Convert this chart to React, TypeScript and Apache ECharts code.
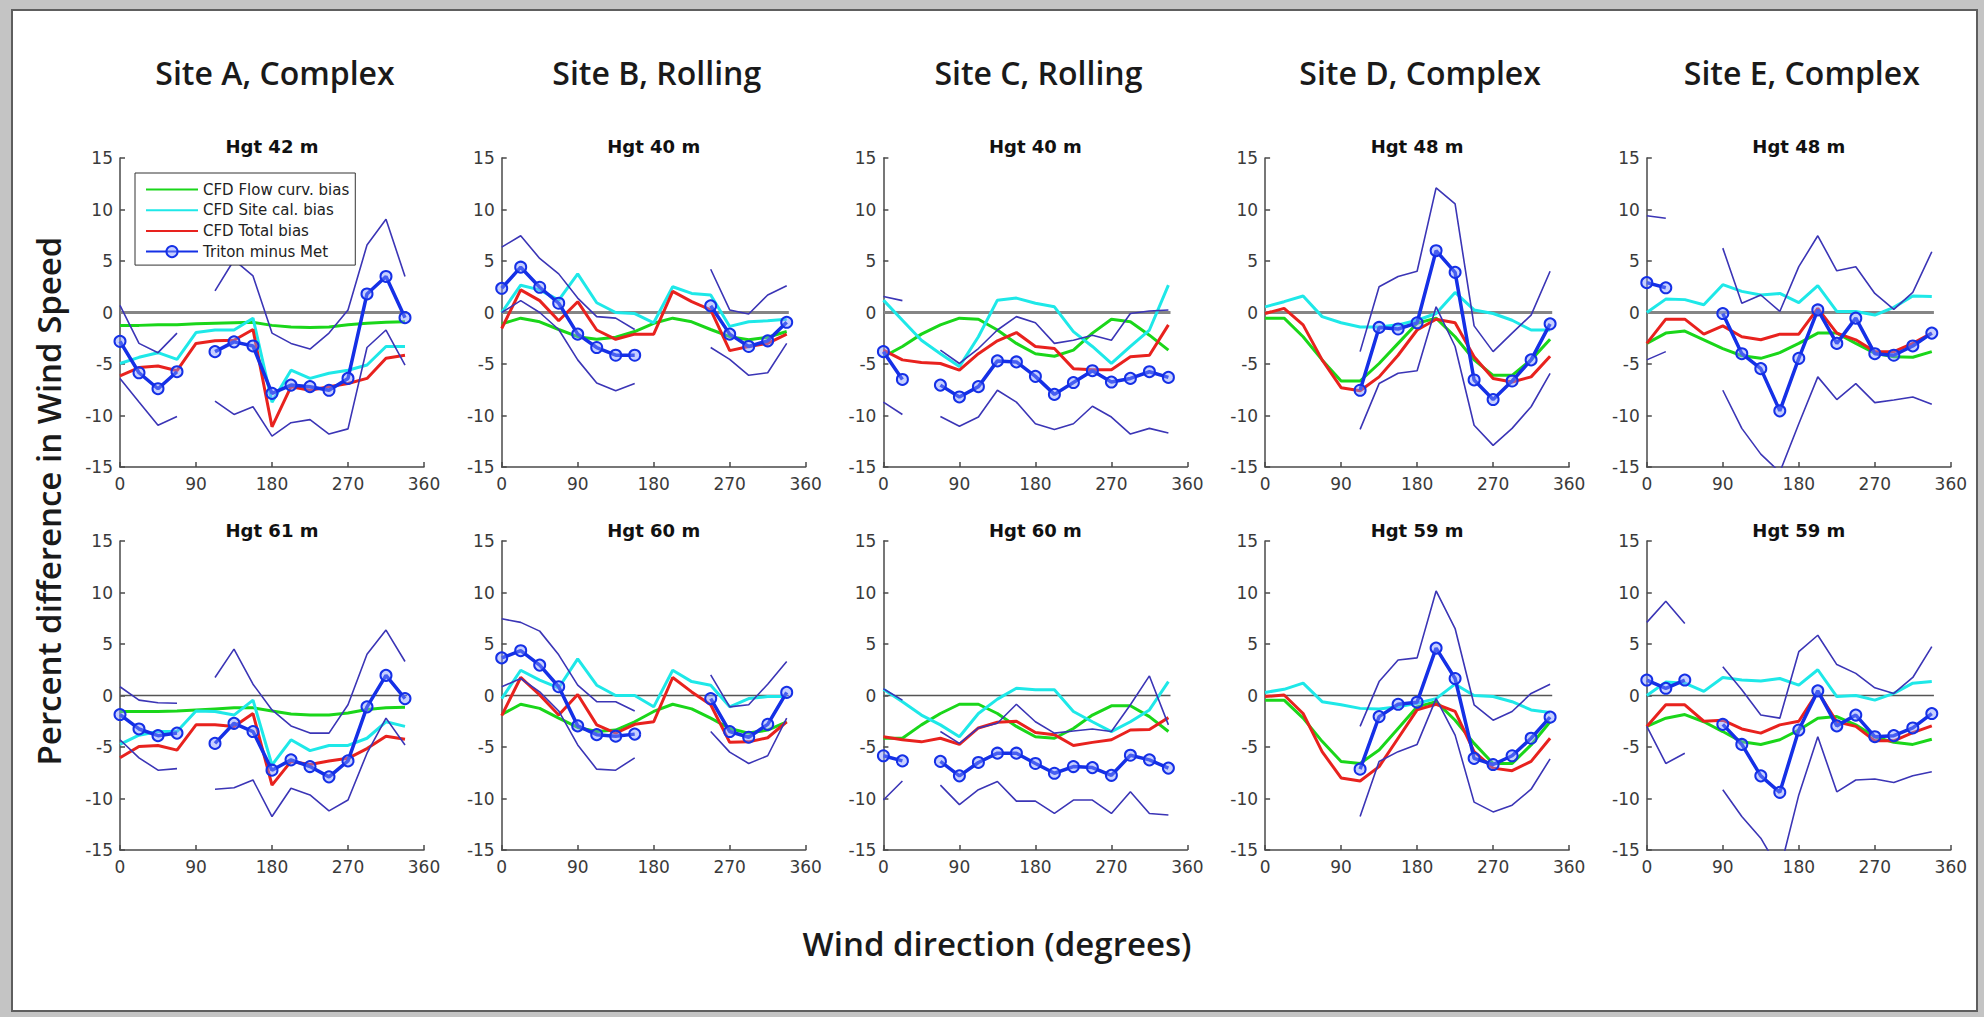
import React, { useEffect, useRef } from "react";
import * as echarts from "echarts";

const N = null;

// Wind-direction sectors (degrees)
const DIRS = [0, 22.5, 45, 67.5, 90, 112.5, 135, 157.5, 180, 202.5, 225, 247.5, 270, 292.5, 315, 337.5];

const SERIES_NAMES = ["CFD Flow curv. bias", "CFD Site cal. bias", "CFD Total bias", "Triton minus Met"];
const COLUMN_TITLES = ["Site A, Complex", "Site B, Rolling", "Site C, Rolling", "Site D, Complex", "Site E, Complex"];
const PANEL_TITLES_TOP = ["Hgt 42 m", "Hgt 40 m", "Hgt 40 m", "Hgt 48 m", "Hgt 48 m"];
const PANEL_TITLES_BOTTOM = ["Hgt 61 m", "Hgt 60 m", "Hgt 60 m", "Hgt 59 m", "Hgt 59 m"];
const Y_TITLE = "Percent difference in Wind Speed";
const X_TITLE = "Wind direction (degrees)";

// ---- Site A, 42 m
const A1_FLOW = [-1.25, -1.25, -1.2, -1.2, -1.1, -1.05, -1.0, -0.95, -1.25, -1.4, -1.45, -1.4, -1.2, -1.05, -0.95, -0.9];
const A1_SITE = [-4.95, -4.35, -3.9, -4.55, -1.95, -1.7, -1.7, -0.55, -8.7, -5.6, -6.4, -5.9, -5.6, -5.1, -3.3, -3.3];
const A1_TOTAL = [-6.15, -5.35, -5.2, -5.65, -3.0, -2.75, -2.7, -1.65, -11.1, -7.2, -7.55, -7.2, -6.9, -6.4, -4.45, -4.15];
const A1_TRITON = [-2.8, -5.85, -7.4, -5.75, N, -3.8, -2.85, -3.25, -7.85, -7.05, -7.2, -7.55, -6.4, 1.8, 3.5, -0.5];
const A1_HI = [0.7, -3.0, -3.9, -2.0, N, 2.1, 5.1, 3.55, -2.0, -3.0, -3.55, -2.0, 0.25, 6.55, 9.05, 3.5];
const A1_LO = [-6.4, -8.7, -10.95, -10.1, N, -8.6, -9.9, -9.15, -12.0, -10.7, -10.4, -11.8, -11.3, -3.4, -1.7, -5.1];

// ---- Site B, 40 m
const B1_FLOW = [-1.1, -0.55, -0.9, -1.65, -2.35, -2.6, -2.4, -1.85, -1.05, -0.55, -0.9, -1.65, -2.35, -2.65, -2.4, -1.85];
const B1_SITE = [0, 2.65, 2.2, 1.2, 3.75, 0.95, 0, -0.1, -1.0, 2.5, 1.85, 1.7, -1.35, -0.9, -0.8, -0.65];
const B1_TOTAL = [-1.55, 2.2, 1.15, -0.8, 1.05, -1.7, -2.6, -2.1, -2.1, 2.05, 1.05, 0.25, -3.7, -3.3, -3.0, -2.1];
const B1_TRITON = [2.35, 4.4, 2.45, 0.9, -2.1, -3.4, -4.15, -4.15, N, N, N, 0.65, -2.1, -3.3, -2.75, -0.95];
const B1_HI = [6.35, 7.45, 5.25, 3.75, 1.4, -0.4, -0.55, -1.65, N, N, N, 4.2, 0.25, -0.15, 1.7, 2.6];
const B1_LO = [0, 1.15, 0, -1.65, -4.6, -6.85, -7.6, -6.9, N, N, N, -3.4, -4.55, -6.1, -5.85, -3.0];

// ---- Site C, 40 m
const C1_FLOW = [-4.3, -3.3, -2.1, -1.2, -0.55, -0.65, -1.7, -3.0, -4.0, -4.25, -3.65, -2.0, -0.65, -0.9, -2.2, -3.65];
const C1_SITE = [1.2, -0.75, -2.7, -4.0, -5.25, -2.35, 1.2, 1.4, 0.9, 0.55, -1.85, -3.3, -4.95, -3.3, -1.7, 2.65];
const C1_TOTAL = [-3.65, -4.6, -4.85, -4.95, -5.6, -4.0, -2.75, -1.95, -3.3, -3.5, -5.45, -5.55, -5.55, -4.3, -4.15, -1.2];
const C1_TRITON = [-3.8, -6.5, N, -7.05, -8.2, -7.2, -4.7, -4.8, -6.2, -7.95, -6.8, -5.65, -6.75, -6.4, -5.75, -6.3];
const C1_HI = [1.55, 1.15, N, -3.65, -4.95, -3.5, -1.7, -0.4, -1.0, -3.0, -2.7, -2.2, -2.7, -0.1, 0.15, 0.25];
const C1_LO = [-8.7, -9.9, N, -10.1, -11.05, -10.15, -7.55, -8.7, -10.8, -11.35, -10.8, -9.1, -10.15, -11.8, -11.25, -11.7];

// ---- Site D, 48 m
const D1_FLOW = [-0.55, -0.55, -2.35, -4.6, -6.65, -6.65, -4.95, -3.0, -1.05, -0.55, -2.35, -4.6, -6.1, -6.1, -4.6, -2.6];
const D1_SITE = [0.55, 1.05, 1.6, -0.4, -1.0, -1.4, -1.4, -1.2, -0.75, -0.1, 1.95, 0.25, -0.1, -0.75, -1.7, -1.7];
const D1_TOTAL = [-0.1, 0.4, -1.2, -4.6, -7.3, -7.6, -6.25, -4.15, -1.7, -0.65, -1.0, -4.3, -6.4, -6.75, -6.25, -4.25];
const D1_TRITON = [N, N, N, N, N, -7.55, -1.45, -1.6, -1.0, 6.0, 3.9, -6.55, -8.45, -6.65, -4.6, -1.1];
const D1_HI = [N, N, N, N, N, -3.8, 2.5, 3.5, 4.0, 12.1, 10.55, -1.3, -3.8, -2.0, -0.25, 4.0];
const D1_LO = [N, N, N, N, N, -11.35, -6.9, -5.9, -5.65, 0.55, -3.3, -10.95, -12.9, -11.25, -9.15, -5.9];

// ---- Site E, 48 m
const E1_FLOW = [-3.0, -2.0, -1.8, -2.65, -3.5, -4.2, -4.45, -3.9, -3.0, -2.0, -2.0, -3.0, -3.95, -4.3, -4.35, -3.8];
const E1_SITE = [0, 1.3, 1.25, 0.75, 2.7, 2.05, 1.7, 1.85, 0.95, 2.6, 0.1, 0.1, -0.25, 0.5, 1.6, 1.55];
const E1_TOTAL = [-3.0, -0.65, -0.65, -2.1, -1.3, -2.35, -2.65, -2.1, -2.1, 0.4, -2.0, -2.65, -3.8, -3.8, -3.0, -2.0];
const E1_TRITON = [2.9, 2.4, N, N, -0.1, -4.0, -5.45, -9.55, -4.45, 0.25, -3.0, -0.55, -4.0, -4.15, -3.25, -2.0];
const E1_HI = [9.4, 9.15, N, N, 6.25, 0.9, 1.7, 0.1, 4.45, 7.45, 4.05, 4.45, 1.85, 0.3, 1.95, 5.9];
const E1_LO = [-4.6, -3.8, N, N, -7.55, -11.25, -13.75, -15.5, -10.8, -6.25, -8.45, -6.9, -8.75, -8.5, -8.2, -8.9];

// ---- Site A, 61 m
const A2_FLOW = [-1.55, -1.55, -1.55, -1.5, -1.4, -1.3, -1.2, -1.2, -1.5, -1.8, -1.9, -1.9, -1.7, -1.35, -1.2, -1.15];
const A2_SITE = [-4.75, -3.85, -3.5, -3.5, -1.5, -1.55, -1.9, -0.45, -6.75, -4.3, -5.35, -4.85, -4.85, -4.15, -2.55, -3.0];
const A2_TOTAL = [-6.05, -4.95, -4.85, -5.3, -2.85, -2.85, -3.0, -1.75, -8.7, -6.4, -6.7, -6.35, -6.1, -5.15, -3.95, -4.25];
const A2_TRITON = [-1.85, -3.25, -3.9, -3.65, N, -4.65, -2.7, -3.5, -7.25, -6.25, -6.9, -7.9, -6.35, -1.1, 1.95, -0.3];
const A2_HI = [0.85, -0.45, -0.7, -0.75, N, 1.75, 4.5, 1.1, -1.4, -2.95, -3.65, -3.65, -0.9, 4.0, 6.35, 3.3];
const A2_LO = [-4.3, -6.05, -7.25, -7.1, N, -9.1, -8.95, -8.2, -11.75, -9.0, -9.65, -11.2, -10.15, -5.6, -2.2, -4.8];

// ---- Site B, 60 m
const B2_FLOW = [-1.85, -0.85, -1.25, -2.2, -3.1, -3.5, -3.35, -2.55, -1.55, -0.85, -1.3, -2.2, -3.2, -3.65, -3.35, -2.55];
const B2_SITE = [-0.3, 2.45, 1.5, 0.75, 3.55, 1.0, 0, 0, -1.1, 2.45, 1.35, 1.0, -1.1, -0.3, -0.1, -0.1];
const B2_TOTAL = [-1.95, 1.75, 0.05, -1.9, 0.1, -2.85, -3.65, -2.8, -2.55, 1.75, 0.35, -0.9, -4.55, -4.5, -4.1, -2.55];
const B2_TRITON = [3.65, 4.35, 2.95, 0.85, -2.95, -3.8, -3.95, -3.75, N, N, N, -0.3, -3.5, -4.05, -2.8, 0.3];
const B2_HI = [7.45, 7.1, 6.25, 3.95, 1.0, -0.6, -0.6, -1.5, N, N, N, 2.0, -1.1, -0.9, 1.1, 3.3];
const B2_LO = [0.85, 1.65, 0.35, -1.5, -4.8, -7.15, -7.25, -6.05, N, N, N, -3.5, -5.5, -6.6, -5.85, -2.2];

// ---- Site C, 60 m
const C2_FLOW = [-4.15, -4.15, -2.85, -1.75, -0.85, -0.85, -1.75, -3.0, -4.0, -4.15, -3.2, -1.9, -1.0, -1.0, -2.05, -3.5];
const C2_SITE = [0.6, -0.6, -1.9, -2.85, -4.0, -1.75, -0.35, 0.7, 0.55, 0.55, -1.55, -2.55, -3.5, -2.55, -1.4, 1.35];
const C2_TOTAL = [-4.0, -4.3, -4.5, -4.15, -4.75, -3.15, -2.6, -2.5, -3.6, -3.8, -4.85, -4.55, -4.3, -3.35, -3.3, -2.15];
const C2_TRITON = [-5.85, -6.35, N, -6.4, -7.8, -6.5, -5.6, -5.6, -6.6, -7.55, -6.9, -7.0, -7.75, -5.8, -6.25, -7.05];
const C2_HI = [0.65, -0.45, N, -3.5, -4.65, -3.15, -2.7, -0.85, -2.55, -3.65, -3.45, -3.25, -3.5, -0.9, 1.9, -2.85];
const C2_LO = [-10.15, -8.3, N, -8.7, -10.6, -9.15, -8.35, -10.25, -10.25, -11.45, -10.15, -10.15, -11.45, -9.35, -11.45, -11.6];

// ---- Site D, 59 m
const D2_FLOW = [-0.45, -0.45, -2.2, -4.45, -6.4, -6.6, -5.3, -3.2, -1.1, -0.6, -2.4, -4.65, -6.6, -6.6, -4.8, -2.55];
const D2_SITE = [0.3, 0.6, 1.2, -0.6, -0.9, -1.25, -1.3, -1.1, -0.75, -0.3, 1.1, 0, -0.1, -0.6, -1.4, -1.65];
const D2_TOTAL = [-0.1, 0.05, -1.75, -5.45, -8.0, -8.3, -6.9, -4.15, -1.4, -0.85, -1.55, -5.45, -7.05, -7.3, -6.4, -4.15];
const D2_TRITON = [N, N, N, N, N, -7.15, -2.05, -0.85, -0.65, 4.6, 1.65, -6.1, -6.7, -5.85, -4.15, -2.1];
const D2_HI = [N, N, N, N, N, -3.0, 1.35, 3.45, 3.65, 10.15, 6.5, -0.9, -2.4, -1.55, 0.2, 1.1];
const D2_LO = [N, N, N, N, N, -11.75, -6.4, -5.45, -4.75, -0.3, -3.85, -10.35, -11.3, -10.65, -9.1, -6.15];

// ---- Site E, 59 m
const E2_FLOW = [-3.0, -2.2, -1.85, -2.55, -3.5, -4.5, -4.75, -4.3, -3.35, -2.2, -2.05, -2.85, -4.0, -4.55, -4.75, -4.25];
const E2_SITE = [0, 1.3, 1.2, 0.4, 1.75, 1.5, 1.4, 1.65, 1.0, 2.5, -0.1, 0, -0.45, 0.2, 1.2, 1.35];
const E2_TOTAL = [-3.0, -0.9, -0.9, -2.5, -2.4, -3.25, -3.65, -2.85, -2.5, 0.35, -2.55, -3.0, -4.4, -4.4, -3.6, -2.95];
const E2_TRITON = [1.5, 0.7, 1.5, N, -2.8, -4.75, -7.8, -9.4, -3.35, 0.45, -2.95, -1.9, -4.0, -3.9, -3.15, -1.75];
const E2_HI = [7.1, 9.15, 7.0, N, 2.8, 0.55, -1.9, -2.2, 4.25, 5.85, 3.0, 2.15, 0.75, 0.2, 1.75, 4.75];
const E2_LO = [-3.0, -6.6, -5.6, N, -9.15, -11.75, -13.85, -17.0, -9.65, -4.0, -9.35, -8.2, -8.1, -8.45, -7.8, -7.4];

// zero reference line extent (degrees)
const ZERO_REF = [[0, 0], [340, 0]];

const PANELS = [
  { row: 0, col: 0, flow: A1_FLOW, site: A1_SITE, total: A1_TOTAL, triton: A1_TRITON, hi: A1_HI, lo: A1_LO },
  { row: 0, col: 1, flow: B1_FLOW, site: B1_SITE, total: B1_TOTAL, triton: B1_TRITON, hi: B1_HI, lo: B1_LO },
  { row: 0, col: 2, flow: C1_FLOW, site: C1_SITE, total: C1_TOTAL, triton: C1_TRITON, hi: C1_HI, lo: C1_LO },
  { row: 0, col: 3, flow: D1_FLOW, site: D1_SITE, total: D1_TOTAL, triton: D1_TRITON, hi: D1_HI, lo: D1_LO },
  { row: 0, col: 4, flow: E1_FLOW, site: E1_SITE, total: E1_TOTAL, triton: E1_TRITON, hi: E1_HI, lo: E1_LO },
  { row: 1, col: 0, flow: A2_FLOW, site: A2_SITE, total: A2_TOTAL, triton: A2_TRITON, hi: A2_HI, lo: A2_LO },
  { row: 1, col: 1, flow: B2_FLOW, site: B2_SITE, total: B2_TOTAL, triton: B2_TRITON, hi: B2_HI, lo: B2_LO },
  { row: 1, col: 2, flow: C2_FLOW, site: C2_SITE, total: C2_TOTAL, triton: C2_TRITON, hi: C2_HI, lo: C2_LO },
  { row: 1, col: 3, flow: D2_FLOW, site: D2_SITE, total: D2_TOTAL, triton: D2_TRITON, hi: D2_HI, lo: D2_LO },
  { row: 1, col: 4, flow: E2_FLOW, site: E2_SITE, total: E2_TOTAL, triton: E2_TRITON, hi: E2_HI, lo: E2_LO },
];

// layout
const W = 1984;
const H = 1017;
const GRID_LEFT0 = 120;
const GRID_DX = 381.7;
const GRID_W = 304;
const GRID_H = 309;
const GRID_TOPS = [158, 541];
const PANEL_TITLE_Y = [146, 530];

const GREEN = "#1ad61a";
const CYAN = "#1ee8e8";
const RED = "#e8221e";
const BLUE = "#1530e6";
const BOUND = "#3b35b6";
const AXIS = "#4a4a4a";

const pair = (vals) => DIRS.map((d, i) => [d, vals[i]]);

function buildOption() {
  const grid = PANELS.map((p) => ({
    left: GRID_LEFT0 + p.col * GRID_DX,
    top: GRID_TOPS[p.row],
    width: GRID_W,
    height: GRID_H,
  }));
  const axisLabel = { color: "#3a3a3a", fontSize: 17, fontFamily: "DejaVu Sans" };
  const xAxis = PANELS.map((p, i) => ({
    type: "value",
    gridIndex: i,
    min: 0,
    max: 360,
    interval: 90,
    axisLine: { show: true, onZero: false, lineStyle: { color: AXIS, width: 1.5 } },
    axisTick: { show: true, inside: true, length: 5, lineStyle: { color: AXIS, width: 1.5 } },
    axisLabel: { ...axisLabel, margin: 8 },
    splitLine: { show: false },
  }));
  const yAxis = PANELS.map((p, i) => ({
    type: "value",
    gridIndex: i,
    min: -15,
    max: 15,
    interval: 5,
    axisLine: { show: true, onZero: false, lineStyle: { color: AXIS, width: 1.5 } },
    axisTick: { show: true, inside: true, length: 5, lineStyle: { color: AXIS, width: 1.5 } },
    axisLabel: { ...axisLabel, margin: 7 },
    splitLine: { show: false },
  }));

  const series = [];
  PANELS.forEach((p, i) => {
    const base = { type: "line", xAxisIndex: i, yAxisIndex: i, connectNulls: false, clip: true, silent: true };
    series.push({
      ...base,
      name: "zero",
      data: ZERO_REF,
      symbol: "none",
      lineStyle: { color: p.row === 0 ? "#858585" : "#555555", width: p.row === 0 ? 3 : 1.5 },
      itemStyle: { color: "#858585" },
    });
    series.push({ ...base, name: SERIES_NAMES[0], data: pair(p.flow), symbol: "none", lineStyle: { color: GREEN, width: 3 }, itemStyle: { color: GREEN } });
    series.push({ ...base, name: SERIES_NAMES[1], data: pair(p.site), symbol: "none", lineStyle: { color: CYAN, width: 3 }, itemStyle: { color: CYAN } });
    series.push({ ...base, name: SERIES_NAMES[2], data: pair(p.total), symbol: "none", lineStyle: { color: RED, width: 3 }, itemStyle: { color: RED } });
    series.push({ ...base, name: "upper", data: pair(p.hi), symbol: "none", lineStyle: { color: BOUND, width: 1.6 }, itemStyle: { color: BOUND } });
    series.push({ ...base, name: "lower", data: pair(p.lo), symbol: "none", lineStyle: { color: BOUND, width: 1.6 }, itemStyle: { color: BOUND } });
    series.push({
      ...base,
      name: SERIES_NAMES[3],
      data: pair(p.triton),
      symbol: "circle",
      symbolSize: 11,
      showSymbol: true,
      lineStyle: { color: BLUE, width: 3.5 },
      itemStyle: { color: "rgba(130,150,255,0.45)", borderColor: BLUE, borderWidth: 2 },
    });
  });

  const graphic = [];
  graphic.push({ type: "rect", z: -10, shape: { x: 0, y: 0, width: W, height: H }, style: { fill: "#c4c4c4" } });
  graphic.push({ type: "rect", z: -9, shape: { x: 12, y: 10, width: 1965, height: 1001 }, style: { fill: "#ffffff", stroke: "#5e5e5e", lineWidth: 2 } });
  COLUMN_TITLES.forEach((t, c) => {
    graphic.push({
      type: "text",
      z: 10,
      x: GRID_LEFT0 + c * GRID_DX + GRID_W / 2 + 3,
      y: 72,
      style: { text: t, fill: "#1a1a1a", font: "600 32px 'Open Sans'", align: "center", verticalAlign: "middle" },
    });
  });
  [PANEL_TITLES_TOP, PANEL_TITLES_BOTTOM].forEach((row, r) => {
    row.forEach((t, c) => {
      graphic.push({
        type: "text",
        z: 10,
        x: GRID_LEFT0 + c * GRID_DX + GRID_W / 2,
        y: PANEL_TITLE_Y[r],
        style: { text: t, fill: "#111", font: "bold 18px 'DejaVu Sans'", align: "center", verticalAlign: "middle" },
      });
    });
  });
  graphic.push({
    type: "text",
    z: 10,
    x: 48,
    y: 501,
    rotation: Math.PI / 2,
    style: { text: Y_TITLE, fill: "#1a1a1a", font: "600 33px 'Open Sans'", align: "center", verticalAlign: "middle" },
  });
  graphic.push({
    type: "text",
    z: 10,
    x: 997,
    y: 943,
    style: { text: X_TITLE, fill: "#1a1a1a", font: "600 33px 'Open Sans'", align: "center", verticalAlign: "middle" },
  });

  // legend entries: plain lines for the CFD curves, line + marker for Triton
  const legendData = SERIES_NAMES.map((name, k) =>
    k < 3 ? { name, itemStyle: { opacity: 0 } } : { name }
  );

  return {
    animation: false,
    backgroundColor: "#ffffff",
    grid,
    xAxis,
    yAxis,
    series,
    graphic,
    legend: {
      data: legendData,
      orient: "vertical",
      left: 135,
      top: 173,
      itemWidth: 52,
      itemHeight: 14,
      itemGap: 5.7,
      padding: [9, 6, 6, 10],
      borderColor: "#333",
      borderWidth: 1,
      backgroundColor: "#ffffff",
      selectedMode: false,
      z: 20,
      textStyle: { fontFamily: "DejaVu Sans", fontSize: 15, color: "#222" },
    },
  };
}

export default function App() {
  const ref = useRef(null);
  useEffect(() => {
    const chart = echarts.init(ref.current, null, { renderer: "svg" });
    chart.setOption(buildOption());
    return () => chart.dispose();
  }, []);
  return <div ref={ref} style={{ position: "absolute", left: 0, top: 0, width: W, height: H }} />;
}
